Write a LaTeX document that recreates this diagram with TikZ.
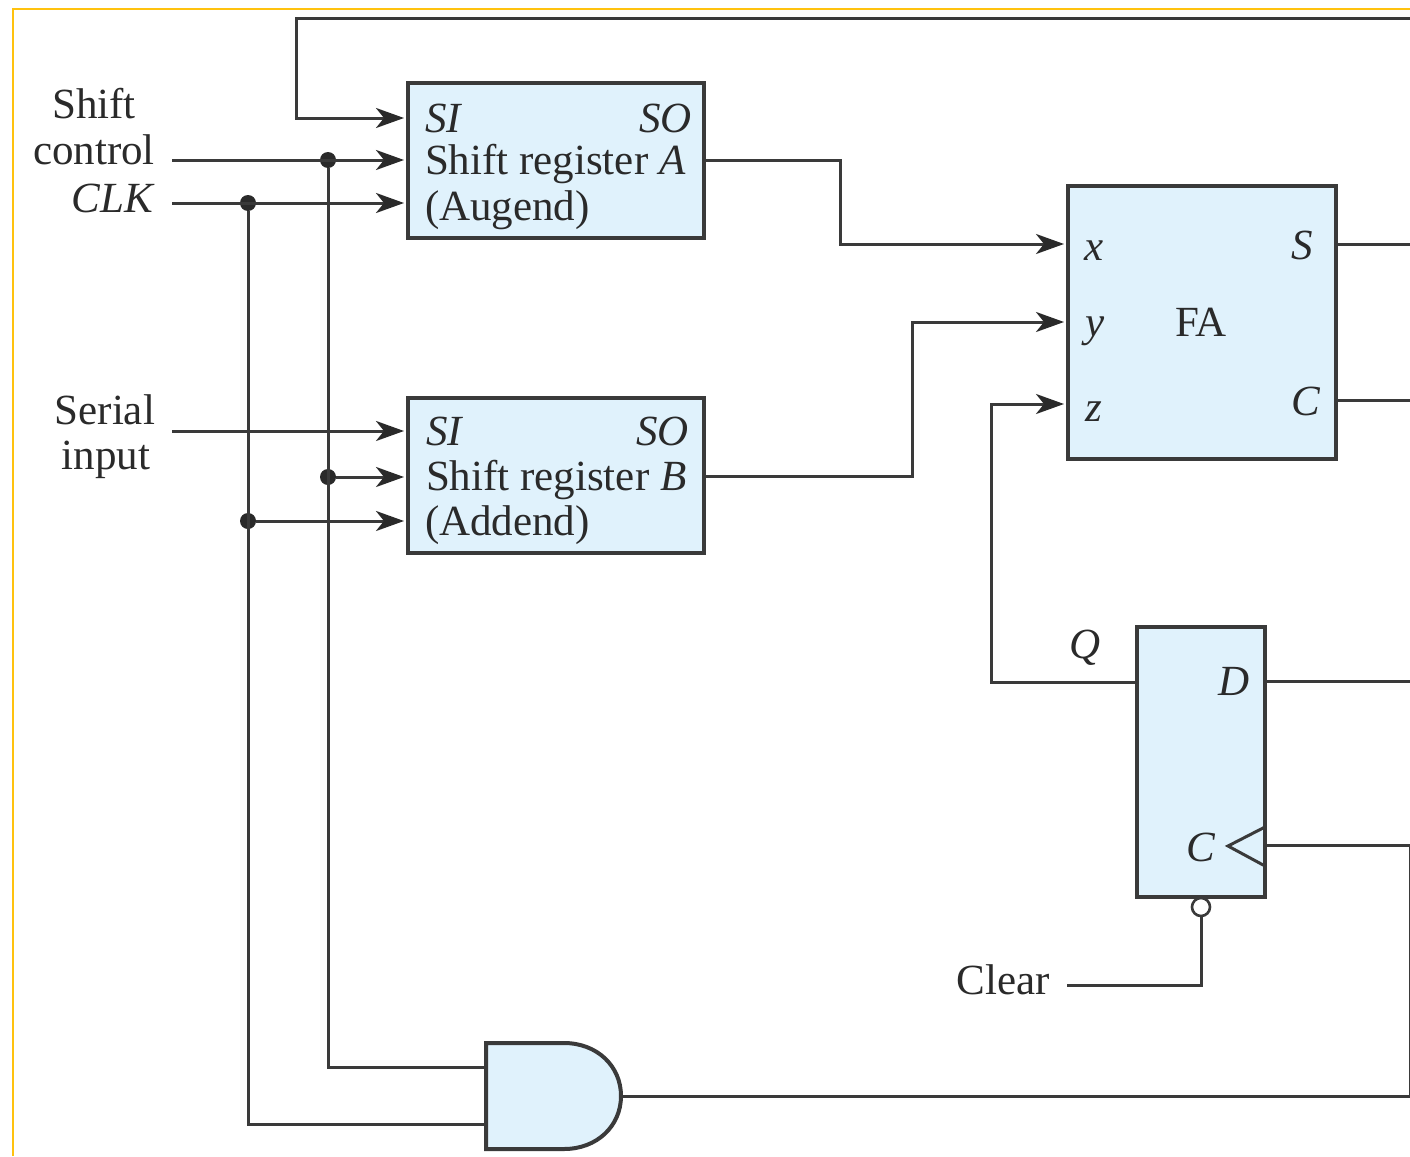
\documentclass[tikz,border=0pt]{standalone}
\usepackage{fontspec}
\setmainfont{Liberation Serif}
\usetikzlibrary{arrows.meta,calc}
\definecolor{ink}{HTML}{3A3A3A}
\definecolor{txt}{HTML}{2A2A2A}
\definecolor{pale}{HTML}{E0F2FC}
\definecolor{frame}{HTML}{FFC20E}
\tikzset{
  x=1pt,y=-1pt,
  blockbox/.style={draw=ink,fill=pale,line width=4pt,rectangle,inner sep=0pt,outer sep=0pt},
  gatearea/.style={rectangle,inner sep=0pt,outer sep=0pt,minimum width=135pt,minimum height=106pt},
  wire/.style={draw=ink,line width=3pt,line join=miter},
  arr/.style={wire,-{Stealth[length=28pt,width=20pt,inset=8pt,color=txt]},shorten >=4pt},
  dotn/.style={circle,fill=txt,inner sep=0pt,minimum size=16pt},
  lab/.style={inner sep=0pt,outer sep=0pt,text=txt,font=\fontsize{43}{50}\selectfont},
  labw/.style={lab,anchor=base west},
  labe/.style={lab,anchor=base east},
  labc/.style={lab,anchor=base},
}
\begin{document}
\begin{tikzpicture}
\useasboundingbox (0,0) rectangle (1410,1156);
\fill[white] (0,0) rectangle (1410,1156);
\draw[frame,line width=2.5pt] (13,1156) -- (13,9) -- (1410,9);

% blocks
\node[blockbox,minimum width=296pt,minimum height=155pt] (A) at (556,160.5) {};
\node[blockbox,minimum width=296pt,minimum height=155pt] (B) at (556,475.5) {};
\node[blockbox,minimum width=268pt,minimum height=273pt] (FA) at (1202,322.5) {};
\node[blockbox,minimum width=128pt,minimum height=270pt] (FF) at (1201,762) {};
\node[gatearea] (AND) at (553.5,1096) {};
\coordinate (in1) at ($(AND.west)+(0,-29)$);
\coordinate (in2) at ($(AND.west)+(0,28)$);
\draw[ink,fill=pale,line width=4pt,line join=miter]
  (AND.south west) -- (AND.north west) -- ($(AND.north west)+(78,0)$)
  .. controls ($(AND.north east)+(-24,0)$) and ($(AND.east)+(0,-30)$) .. (AND.east)
  .. controls ($(AND.east)+(0,30)$) and ($(AND.south east)+(-24,0)$) .. ($(AND.south west)+(78,0)$)
  -- cycle;
\node[circle,draw=ink,fill=white,line width=2.6pt,inner sep=0pt,minimum size=18pt] (bub) at (1201,907) {};
\draw[ink,line width=3pt,line join=miter] (1265,827) -- (1228,846) -- (1265,866);

% free ends
\coordinate (fbr) at (1410,19);
\coordinate (fbl) at (296,118);
\coordinate (sc) at (172,160);
\coordinate (clk) at (172,203);
\coordinate (ser) at (172,431);
\coordinate (clr) at (1067,985);
\coordinate (sout) at (1410,244);
\coordinate (cout) at (1410,400);
\coordinate (dout) at (1410,681);
\coordinate (ckr) at (1410,845);

% junctions
\node[dotn] (j1) at (328,160) {};
\node[dotn] (j2) at (248,203) {};
\node[dotn] (j3) at (328,477) {};
\node[dotn] (j4) at (248,521) {};

% connectors
\draw[arr] (fbr) -| (fbl) -- (fbl -| A.west);
\draw[arr] (sc) -- (sc -| A.west);
\draw[arr] (clk) -- (clk -| A.west);
\draw[arr] (ser) -- (ser -| B.west);
\draw[arr] (j3) -- (j3 -| B.west);
\draw[arr] (j4) -- (j4 -| B.west);
\draw[wire] (j1) |- (in1);
\draw[wire] (j2) |- (in2);
\draw[arr] (A.east |- 0,160) -- (840,160) |- (FA.west |- 0,244);
\draw[arr] (B.east |- 0,476) -- (912,476) |- (FA.west |- 0,322);
\draw[arr] (FF.west |- 0,682) -- (991,682) |- (FA.west |- 0,404);
\draw[wire] (FA.east |- sout) -- (sout);
\draw[wire] (FA.east |- cout) -- (cout);
\draw[wire] (FF.east |- dout) -- (dout);
\draw[wire] (FF.east |- ckr) -- (ckr) |- (AND.east);
\draw[wire] (clr) -| (bub.south);

% text
\node[labw] (t1) at (425,132) {\textit{SI}};
\node[labe] (t2) at (692,132) {\textit{SO}};
\node[labw] (t3) at (425,174) {Shift register \textit{A}};
\node[labw] (t4) at (425,220) {(Augend)};
\node[labw] (t5) at (426,445) {\textit{SI}};
\node[labe] (t6) at (689,445) {\textit{SO}};
\node[labw] (t7) at (426,490) {Shift register \textit{B}};
\node[labw] (t8) at (425,535) {(Addend)};
\node[labc] (t9) at (94,118) {Shift};
\node[labc] (t10) at (94,164) {control};
\node[labe] (t11) at (155,212) {\textit{CLK}};
\node[labe] (t12) at (155,424) {Serial};
\node[labc] (t13) at (106,469) {input};
\node[labw] (t14) at (1084,260) {\textit{x}};
\node[labw] (t15) at (1085,336) {\textit{y}};
\node[labw] (t16) at (1085,421) {\textit{z}};
\node[labc] (t17) at (1201,336) {FA};
\node[labe] (t18) at (1313,259) {\textit{S}};
\node[labe] (t19) at (1321,415) {\textit{C}};
\node[labc] (t20) at (1085,658) {\textit{Q}};
\node[labc] (t21) at (1234,695) {\textit{D}};
\node[labc] (t22) at (1201,861) {\textit{C}};
\node[labe] (t23) at (1050,994) {Clear};
\end{tikzpicture}
\end{document}
